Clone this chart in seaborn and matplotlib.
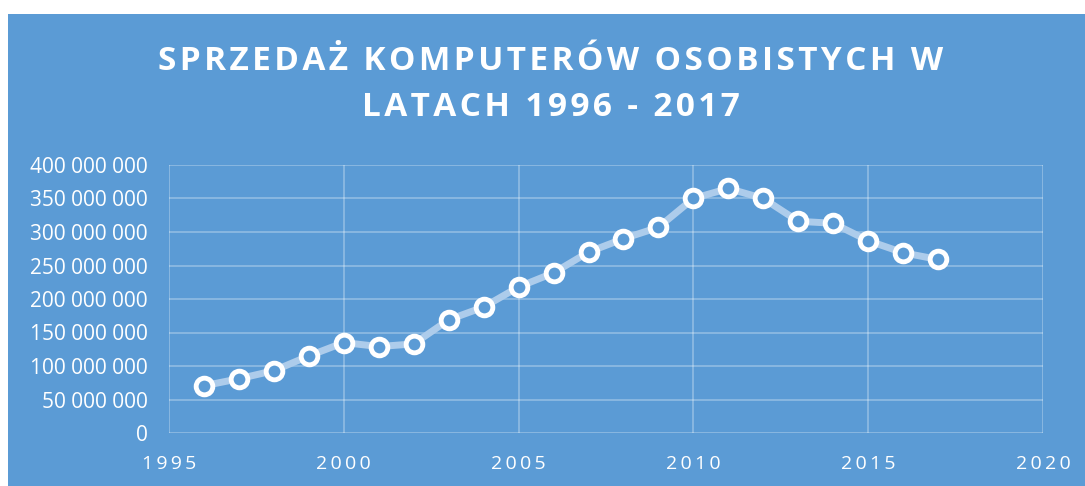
import numpy as np
import pandas as pd
import seaborn as sns
import matplotlib.pyplot as plt
from matplotlib.patches import Rectangle
from matplotlib.ticker import FuncFormatter

# sprzedaż PC
years = [1996, 1997, 1998, 1999, 2000, 2001, 2002, 2003, 2004, 2005, 2006,
         2007, 2008, 2009, 2010, 2011, 2012, 2013, 2014, 2015, 2016, 2017]
sales = [70.5e6, 81e6, 93e6, 115e6, 135e6, 129e6, 133e6, 169e6, 188e6, 218e6, 239e6,
         270e6, 290e6, 307e6, 350e6, 365e6, 350e6, 316e6, 313e6, 287e6, 269e6, 259e6]
x_ticks = [1995, 2000, 2005, 2010, 2015, 2020]
y_ticks = [0, 50e6, 100e6, 150e6, 200e6, 250e6, 300e6, 350e6, 400e6]
title_lines = ["SPRZEDAŻ KOMPUTERÓW OSOBISTYCH W", "LATACH 1996 - 2017"]

bg = "#5B9BD5"
sns.set_style("white")
plt.rcParams['font.family'] = ['Open Sans', 'DejaVu Sans']


def spaced(s, sep="\u200a"):
    # rozstrzelenie liter jak w oryginale
    return sep.join(s)


fig = plt.figure(figsize=(10.85, 4.86), dpi=100, facecolor="white")
fig.patches.append(Rectangle((8 / 1085, 0), 1, 1 - 14 / 486, transform=fig.transFigure,
                             facecolor=bg, edgecolor="none", zorder=-10))
ax = fig.add_axes([169 / 1085, 1 - 433 / 486, 874 / 1085, 268 / 486])
ax.set_facecolor(bg)

df = pd.DataFrame({"rok": years, "sprzedaz": sales})
sns.lineplot(data=df, x="rok", y="sprzedaz", ax=ax, color="#ADCCEB", lw=5,
             marker="o", markersize=12, markerfacecolor=bg,
             markeredgecolor="white", markeredgewidth=3.5, zorder=3)

ax.set_xlim(1995, 2020)
ax.set_ylim(0, 400e6)
ax.set_xticks(x_ticks)
ax.set_yticks(y_ticks)
ax.yaxis.set_major_formatter(FuncFormatter(lambda v, p: f"{int(v):,}".replace(",", " ")))
ax.xaxis.set_major_formatter(FuncFormatter(lambda v, p: "\u2009".join(str(int(v)))))
ax.grid(True, color="white", alpha=0.3, lw=1.3)
for s in ax.spines.values():
    s.set_visible(False)
ax.tick_params(length=0, labelcolor="white", labelsize=14)
ax.tick_params(axis="x", pad=16)
ax.tick_params(axis="y", pad=15.5, labelsize=15)
ax.set_xlabel("")
ax.set_ylabel("")

for line, yc in zip(title_lines, [62, 108]):
    fig.text(551 / 1085, 1 - yc / 486, spaced(line), ha="center", va="center",
             color="white", fontsize=24, fontweight="bold")

fig.savefig("out.png", dpi=100, facecolor="white")
